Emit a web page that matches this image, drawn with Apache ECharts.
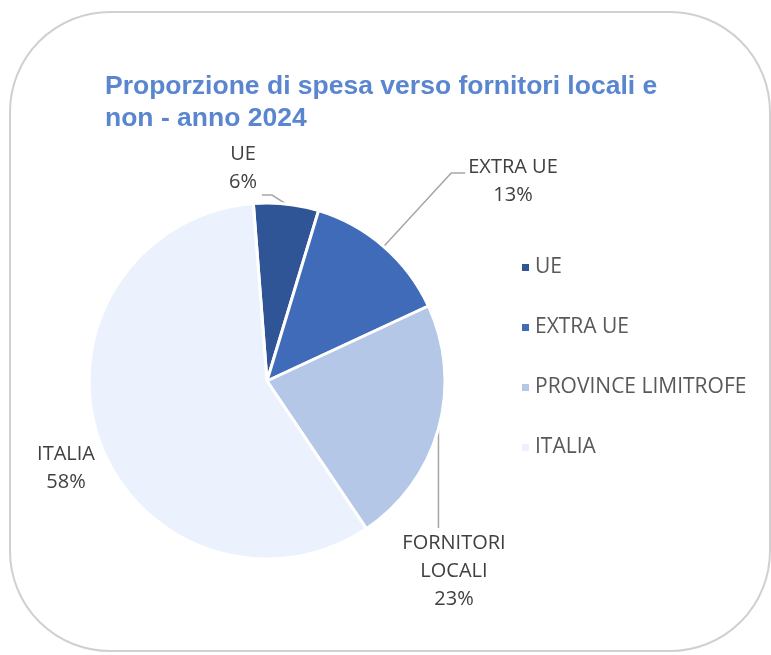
<!DOCTYPE html>
<html>
<head>
<meta charset="utf-8">
<script src="https://cdn.jsdelivr.net/npm/echarts@6/dist/echarts.min.js"></script>
<style>
  html, body { margin: 0; padding: 0; background: #fff; }
  #chart { width: 771px; height: 655px; }
</style>
</head>
<body>
<div id="chart"></div>
<script>
// Proporzione di spesa verso fornitori locali e non - anno 2024
const categories = ['UE', 'EXTRA UE', 'PROVINCE LIMITROFE', 'ITALIA'];
const sliceLabels = ['UE', 'EXTRA UE', 'FORNITORI\nLOCALI', 'ITALIA'];
const shares = [5.9, 13.4, 22.5, 58.2];

function renderChart() {
  const dom = document.getElementById('chart');
  const chart = echarts.init(dom, null, { renderer: 'canvas' });
  const labelFont = "'Open Sans', 'Noto Sans', sans-serif";
  // where each slice label sits (label centre)
  const labelSpots = [
    { x: 243, y: 168 },
    { x: 513, y: 181 },
    { x: 454, y: 571 },
    { x: 66, y: 468 }
  ];

  const option = {
    color: ['#2F5597', '#3F6BB9', '#B4C7E7', '#EBF2FD'],
    graphic: [
      {
        type: 'rect',
        z: -10,
        shape: { x: 10, y: 12, width: 760, height: 639, r: 100 },
        style: { fill: '#fff', stroke: '#D0D0D0', lineWidth: 2 }
      }
    ],
    title: {
      text: 'Proporzione di spesa verso fornitori locali e\nnon - anno 2024',
      left: 100,
      top: 66,
      textStyle: {
        fontFamily: "'Liberation Sans', Arial, sans-serif",
        fontWeight: 'bold',
        fontSize: 26.5,
        lineHeight: 32,
        color: '#5A86D0'
      }
    },
    legend: {
      orient: 'vertical',
      left: 515,
      top: 252,
      itemWidth: 9,
      itemHeight: 9,
      itemGap: 39,
      icon: 'rect',
      data: categories,
      textStyle: {
        fontFamily: labelFont,
        fontSize: 21,
        lineHeight: 21,
        color: '#595959'
      }
    },
    series: [
      {
        type: 'pie',
        center: [267, 381],
        radius: 178,
        startAngle: 94.4,
        clockwise: true,
        percentPrecision: 0,
        itemStyle: { borderColor: '#fff', borderWidth: 3 },
        label: {
          show: true,
          position: 'outside',
          fontFamily: labelFont,
          fontSize: 20,
          lineHeight: 28,
          color: '#404040',
          align: 'center',
          formatter: function (p) {
            return sliceLabels[p.dataIndex] + '\n' + p.percent + '%';
          }
        },
        labelLine: {
          show: true,
          length: 10,
          length2: 10,
          lineStyle: { color: '#A6A6A6', width: 1.5 }
        },
        labelLayout: function (params) {
          const i = params.dataIndex;
          const spot = labelSpots[i];
          const w = params.labelRect.width;
          const h = params.labelRect.height;
          const left = spot.x - w / 2;
          const right = spot.x + w / 2;
          const top = spot.y - h / 2;
          const bottom = spot.y + h / 2;
          const out = { x: spot.x, y: spot.y, align: 'center', verticalAlign: 'middle' };
          const s = params.labelLinePoints ? params.labelLinePoints[0] : null;
          if (s) {
            if (i === 0) {
              out.labelLinePoints = [s, [right + 15, bottom - 1], [right + 5, bottom - 1]];
            } else if (i === 1) {
              out.labelLinePoints = [s, [left - 17, top + 20], [left - 3, top + 20]];
            } else if (i === 2) {
              out.labelLinePoints = [s, [s[0], top - 1], [s[0], top - 1]];
            }
          }
          return out;
        },
        data: categories.map(function (name, i) {
          const item = { name: name, value: shares[i] };
          if (i === 3) item.labelLine = { show: false };
          return item;
        })
      }
    ]
  };
  chart.setOption(option, true);
}
renderChart();
</script>
</body>
</html>
